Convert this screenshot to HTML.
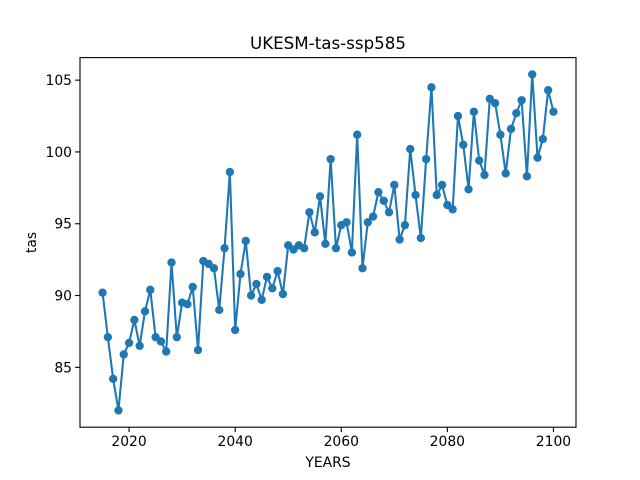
<!DOCTYPE html>
<html><head><meta charset="utf-8"><style>
body{margin:0;background:#fff;}
svg{display:block;font-family:"DejaVu Sans","Liberation Sans",sans-serif;}
</style></head><body>
<svg id="chart" width="640" height="480" viewBox="0 0 640 480">
<rect width="640" height="480" fill="#fff"/>
<text x="328" y="49" font-size="16.7" text-anchor="middle" fill="#000">UKESM-tas-ssp585</text>
<g id="plot"></g>
<text x="328" y="467" font-size="13.9" text-anchor="middle">YEARS</text>
<text x="0" y="0" font-size="13.9" text-anchor="middle" transform="translate(36,242.5) rotate(-90)">tas</text>
</svg>
<script>
const startYear = 2015;
const values = [90.2,87.1,84.2,82.0,85.9,86.7,88.3,86.5,88.9,90.4,87.1,86.8,86.1,92.3,87.1,89.5,89.4,90.6,86.2,92.4,92.2,91.9,89.0,93.3,98.6,87.6,91.5,93.8,90.0,90.8,89.7,91.3,90.5,91.7,90.1,93.5,93.2,93.5,93.3,95.8,94.4,96.9,93.6,99.5,93.3,94.9,95.1,93.0,101.2,91.9,95.1,95.5,97.2,96.6,95.8,97.7,93.9,94.9,100.2,97.0,94.0,99.5,104.5,97.0,97.7,96.3,96.0,102.5,100.5,97.4,102.8,99.4,98.4,103.7,103.4,101.2,98.5,101.6,102.7,103.6,98.3,105.4,99.6,100.9,104.3,102.8];
const years = values.map((v,i)=>startYear+i);
const xTicks = [2020,2040,2060,2080,2100];
const yTicks = [85,90,95,100,105];

const L=80,R=576,T=57.6,B=427.2;
const NS="http://www.w3.org/2000/svg";
const x0=Math.min(...years),x1=Math.max(...years),xm=(x1-x0)*0.05;
const ymin=Math.min(...values),ymax=Math.max(...values),ym=(ymax-ymin)*0.05;
const X=v=>L+(v-(x0-xm))/((x1-x0)+2*xm)*(R-L);
const Y=v=>B-(v-(ymin-ym))/((ymax-ymin)+2*ym)*(B-T);
const g=document.getElementById('plot');
function mk(tag,attrs){const e=document.createElementNS(NS,tag);for(const k in attrs)e.setAttribute(k,attrs[k]);g.appendChild(e);return e;}

const pts=years.map((yr,i)=>X(yr).toFixed(2)+','+Y(values[i]).toFixed(2)).join(' ');
const line=mk('polyline',{points:pts,fill:'none',stroke:'#1f77b4','stroke-width':2.08,'stroke-linejoin':'round'});


years.forEach((yr,i)=>{
  const c=mk('circle',{cx:X(yr),cy:Y(values[i]),r:4.17,fill:'#1f77b4'});
  
  
});
xTicks.forEach(t=>{
  const l=mk('line',{x1:X(t),x2:X(t),y1:B,y2:B+4.9,stroke:'#000','stroke-width':1.1});
  
  
  const tx=mk('text',{x:X(t),y:B+19,'font-size':13.9,'text-anchor':'middle'});
  tx.textContent=t;
  
  
});
yTicks.forEach(t=>{
  const l=mk('line',{x1:L-4.9,x2:L,y1:Y(t),y2:Y(t),stroke:'#000','stroke-width':1.1});
  
  
  const tx=mk('text',{x:L-8,y:Y(t)+5,'font-size':13.9,'text-anchor':'end'});
  tx.textContent=t;
  
  
});
const fr=mk('rect',{x:L,y:T,width:R-L,height:B-T,fill:'none',stroke:'#000','stroke-width':1.1});


</script>
</body></html>
